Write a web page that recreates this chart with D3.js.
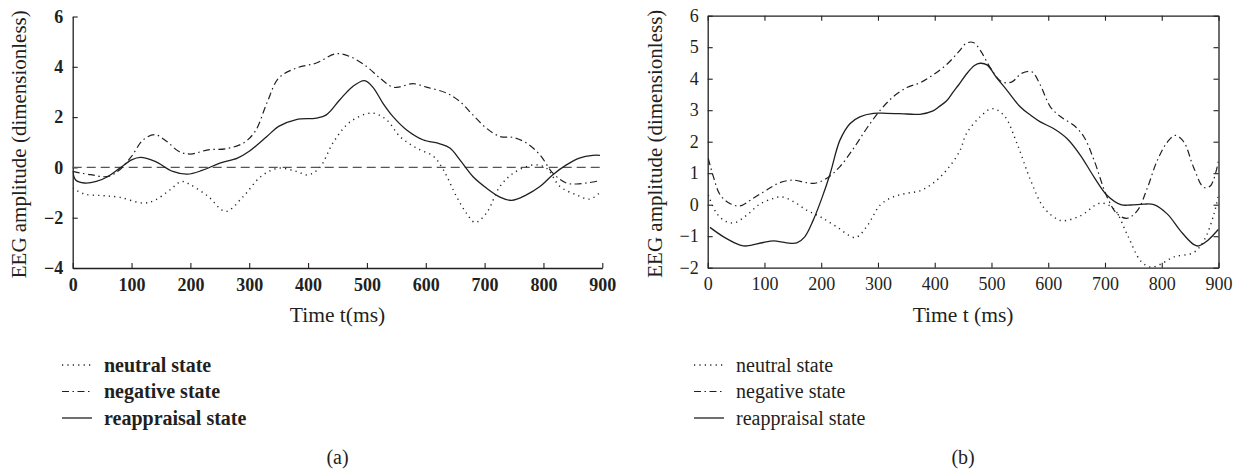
<!DOCTYPE html>
<html>
<head>
<meta charset="utf-8">
<script src="https://cdn.jsdelivr.net/npm/d3@7"></script>
<style>
  html, body { margin: 0; padding: 0; background: #fff; }
  svg { display: block; font-family: "Liberation Serif", "Times New Roman", serif; }
</style>
</head>
<body>
<svg id="chart" width="1242" height="470"></svg>
<script>
// ---------- Data ----------
const xTicks = [0, 100, 200, 300, 400, 500, 600, 700, 800, 900];
const yTicksA = [-4, -2, 0, 2, 4, 6];
const yTicksB = [-2, -1, 0, 1, 2, 3, 4, 5, 6];
const legendLabels = ["neutral state", "negative state", "reappraisal state"];

// Panel (a)
const neutralA_t = [0, 20, 50, 80, 120, 140, 165, 185, 200, 230, 260, 290, 320, 350, 380, 400, 420, 443, 471, 508, 533, 556, 584, 613, 630, 652, 669, 684, 703, 726, 749, 783, 805, 828, 856, 879, 896];
const neutralA_v = [-0.82, -1.06, -1.12, -1.19, -1.42, -1.3, -0.9, -0.56, -0.69, -1.15, -1.75, -1.15, -0.36, -0.03, -0.16, -0.3, 0.0, 1.0, 1.8, 2.16, 1.9, 1.23, 0.77, 0.44, -0.1, -1.15, -1.82, -2.19, -1.82, -0.76, -0.23, 0.1, -0.03, -0.76, -1.09, -1.26, -1.0];

const negativeA_t = [0, 30, 60, 80, 100, 120, 140, 160, 180, 200, 230, 260, 290, 310, 330, 350, 380, 414, 448, 471, 499, 522, 544, 556, 578, 601, 635, 658, 680, 703, 726, 749, 771, 794, 816, 839, 856, 879, 896];
const negativeA_v = [-0.16, -0.29, -0.36, -0.09, 0.44, 1.1, 1.3, 1.03, 0.64, 0.53, 0.70, 0.74, 0.97, 1.43, 2.56, 3.55, 3.95, 4.15, 4.52, 4.41, 4.02, 3.55, 3.19, 3.2, 3.33, 3.19, 2.96, 2.62, 2.09, 1.56, 1.23, 1.19, 0.97, 0.50, -0.23, -0.62, -0.66, -0.6, -0.53];

const reappraisalA_t = [0, 5, 20, 40, 60, 80, 100, 115, 140, 170, 195, 220, 250, 280, 300, 330, 350, 380, 414, 431, 454, 476, 496, 510, 527, 544, 567, 595, 624, 641, 658, 680, 703, 726, 746, 771, 794, 816, 839, 861, 884, 896];
const reappraisalA_v = [-0.15, -0.5, -0.62, -0.56, -0.36, -0.03, 0.3, 0.4, 0.24, -0.16, -0.27, -0.12, 0.17, 0.37, 0.64, 1.23, 1.63, 1.9, 1.96, 2.09, 2.69, 3.22, 3.45, 3.19, 2.56, 2.03, 1.5, 1.1, 0.94, 0.77, 0.3, -0.36, -0.82, -1.18, -1.31, -1.09, -0.76, -0.29, 0.1, 0.37, 0.48, 0.48];

// Panel (b)
const neutralB_t = [1, 16, 33, 48, 69, 92, 116, 130, 151, 174, 198, 227, 260, 280, 304, 327, 350, 374, 397, 421, 444, 456, 480, 501, 522, 545, 569, 592, 616, 627, 657, 692, 716, 739, 763, 780, 798, 821, 856, 874, 892, 900];
const neutralB_v = [0.31, -0.28, -0.54, -0.57, -0.33, 0.02, 0.2, 0.25, 0.1, -0.17, -0.38, -0.7, -1.04, -0.7, -0.01, 0.25, 0.36, 0.44, 0.68, 1.1, 1.7, 2.26, 2.79, 3.05, 2.84, 1.94, 0.77, -0.09, -0.46, -0.51, -0.35, 0.05, -0.14, -0.94, -1.79, -1.98, -1.89, -1.66, -1.52, -1.15, -0.3, 0.34];

const negativeB_t = [1, 10, 22, 39, 57, 80, 104, 127, 151, 174, 189, 210, 233, 257, 280, 304, 327, 351, 374, 397, 421, 442, 456, 468, 480, 497, 518, 536, 553, 571, 586, 604, 622, 645, 663, 681, 704, 722, 739, 757, 775, 792, 810, 824, 839, 856, 874, 886, 900];
const negativeB_v = [1.47, 0.89, 0.31, 0.04, -0.04, 0.2, 0.47, 0.7, 0.78, 0.7, 0.68, 0.84, 1.21, 1.79, 2.42, 3.0, 3.43, 3.72, 3.87, 4.12, 4.45, 4.85, 5.13, 5.15, 4.91, 4.38, 3.9, 3.9, 4.17, 4.22, 3.8, 3.1, 2.79, 2.52, 2.15, 1.4, 0.23, -0.3, -0.43, -0.19, 0.55, 1.4, 1.99, 2.2, 1.99, 1.19, 0.55, 0.6, 1.4];

const reappraisalB_t = [4, 28, 57, 69, 98, 116, 139, 157, 171, 186, 201, 216, 233, 251, 268, 292, 315, 351, 374, 397, 409, 421, 433, 442, 456, 470, 480, 492, 510, 527, 551, 569, 586, 610, 633, 657, 681, 704, 728, 745, 769, 786, 810, 833, 856, 865, 880, 900];
const reappraisalB_v = [-0.72, -1.02, -1.28, -1.31, -1.2, -1.15, -1.21, -1.21, -1.02, -0.49, 0.2, 1.0, 2.05, 2.58, 2.79, 2.9, 2.9, 2.88, 2.87, 2.98, 3.13, 3.3, 3.59, 3.8, 4.15, 4.42, 4.49, 4.44, 4.01, 3.64, 3.1, 2.84, 2.63, 2.41, 2.1, 1.56, 0.87, 0.29, 0.0, -0.01, 0.02, 0.0, -0.3, -0.83, -1.26, -1.31, -1.15, -0.78];

// ---------- Styles ----------
const INK = "#231f20";
const styles = {
  neutral:     { dash: "1.2,4.2", width: 1.4, cap: "butt" },
  negative:    { dash: "7,3.5,1.5,3.5", width: 1.2, cap: "butt" },
  reappraisal: { dash: null, width: 1.3, cap: "butt" }
};

const svg = d3.select("#chart");

function zip(t, v) { return t.map((d, i) => ({ t: d, v: v[i] })); }

function drawPanel(cfg) {
  const x = d3.scaleLinear().domain([0, 900]).range([cfg.left, cfg.right]);
  const y = d3.scaleLinear().domain(cfg.yDomain).range([cfg.bottom, cfg.top]);
  const g = svg.append("g");
  const clipId = "clip-" + cfg.id;
  svg.append("clipPath").attr("id", clipId).append("rect")
    .attr("x", cfg.left).attr("y", cfg.top)
    .attr("width", cfg.right - cfg.left).attr("height", cfg.bottom - cfg.top);

  const fw = cfg.bold ? "bold" : "normal";

  // Bottom axis
  const xa = g.append("g").attr("transform", `translate(0,${cfg.bottom})`)
    .call(d3.axisBottom(x).tickValues(xTicks).tickSize(-5).tickPadding(cfg.xPad).tickSizeOuter(0));
  // Left axis
  const ya = g.append("g").attr("transform", `translate(${cfg.left},0)`)
    .call(d3.axisLeft(y).tickValues(cfg.yTicks).tickSize(-5).tickPadding(cfg.yPad).tickSizeOuter(0)
      .tickFormat(d => d < 0 ? "\u2212" + Math.abs(d) : d));
  [xa, ya].forEach(a => {
    a.select(".domain").attr("stroke", INK).attr("stroke-width", 1.3);
    a.selectAll(".tick line").attr("stroke", INK).attr("stroke-width", 1.1);
    a.selectAll(".tick text").attr("fill", INK).attr("font-size", cfg.tickSize)
      .attr("font-weight", fw).attr("font-family", "Liberation Serif, serif");
  });

  if (cfg.box) {
    const ta = g.append("g").attr("transform", `translate(0,${cfg.top})`)
      .call(d3.axisTop(x).tickValues(xTicks).tickSize(-5).tickFormat("").tickSizeOuter(0));
    const ra = g.append("g").attr("transform", `translate(${cfg.right},0)`)
      .call(d3.axisRight(y).tickValues(cfg.yTicks).tickSize(-5).tickFormat("").tickSizeOuter(0));
    [ta, ra].forEach(a => {
      a.select(".domain").attr("stroke", INK).attr("stroke-width", 1.3);
      a.selectAll(".tick line").attr("stroke", INK).attr("stroke-width", 1.1);
    });
  }

  // zero reference line
  if (cfg.zeroLine) {
    g.append("line")
      .attr("x1", x(0)).attr("x2", x(900)).attr("y1", y(0)).attr("y2", y(0))
      .attr("stroke", "#555").attr("stroke-width", 1.4).attr("stroke-dasharray", "9,5");
  }

  const line = d3.line().x(d => x(d.t)).y(d => y(d.v)).curve(d3.curveCatmullRom.alpha(0.5));
  const lines = g.append("g").attr("clip-path", `url(#${clipId})`);
  cfg.series.forEach(s => {
    const st = styles[s.key];
    lines.append("path").datum(zip(s.t, s.v))
      .attr("d", line).attr("fill", "none").attr("stroke", INK)
      .attr("stroke-width", st.width).attr("stroke-linecap", st.cap)
      .attr("stroke-dasharray", st.dash);
  });

  // Axis titles
  const cy = (cfg.top + cfg.bottom) / 2 + 2;
  g.append("text")
    .attr("transform", `translate(${cfg.yTitleX},${cy}) rotate(-90)`)
    .attr("text-anchor", "middle").attr("font-size", 20.5).attr("fill", INK)
    .attr("textLength", 268).attr("lengthAdjust", "spacingAndGlyphs")
    .text("EEG amplitude (dimensionless)");
  g.append("text")
    .attr("x", (cfg.left + cfg.right) / 2).attr("y", 322)
    .attr("text-anchor", "middle").attr("font-size", 21.5).attr("fill", INK)
    .text(cfg.xTitle);

  // Legend
  const lg = g.append("g");
  legendLabels.forEach((lab, i) => {
    const key = ["neutral", "negative", "reappraisal"][i];
    const st = styles[key];
    const yy = 365 + i * 26.5;
    lg.append("line").attr("x1", cfg.legX).attr("x2", cfg.legX + 30)
      .attr("y1", yy).attr("y2", yy).attr("stroke", INK)
      .attr("stroke-width", st.width).attr("stroke-dasharray", st.dash);
    lg.append("text").attr("x", cfg.legX + 42).attr("y", yy + 6.5)
      .attr("font-size", 20).attr("font-weight", fw).attr("fill", INK)
      .text(lab);
  });

  g.append("text").attr("x", (cfg.left + cfg.right) / 2).attr("y", 464)
    .attr("text-anchor", "middle").attr("font-size", 20).attr("fill", INK)
    .text(cfg.label);
}

drawPanel({
  id: "a", left: 72.7, right: 602.3, top: 16.5, bottom: 268,
  yDomain: [-4, 6], yTicks: yTicksA, bold: true, box: false, zeroLine: true,
  tickSize: 18, xPad: 10, yPad: 9.5, yTitleX: 26, xTitle: "Time t(ms)",
  legX: 62, label: "(a)",
  series: [
    { key: "neutral", t: neutralA_t, v: neutralA_v },
    { key: "negative", t: negativeA_t, v: negativeA_v },
    { key: "reappraisal", t: reappraisalA_t, v: reappraisalA_v }
  ]
});

drawPanel({
  id: "b", left: 707.7, right: 1218.5, top: 15.7, bottom: 267.7,
  yDomain: [-2, 6], yTicks: yTicksB, bold: false, box: true, zeroLine: false,
  tickSize: 18, xPad: 9.5, yPad: 9, yTitleX: 662, xTitle: "Time t (ms)",
  legX: 694, label: "(b)",
  series: [
    { key: "neutral", t: neutralB_t, v: neutralB_v },
    { key: "negative", t: negativeB_t, v: negativeB_v },
    { key: "reappraisal", t: reappraisalB_t, v: reappraisalB_v }
  ]
});
</script>
</body>
</html>
